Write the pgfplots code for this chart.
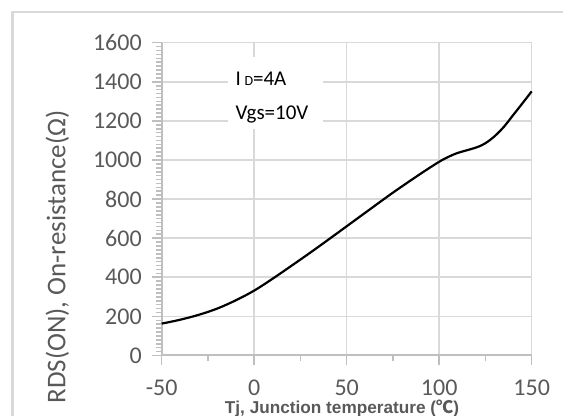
\documentclass[border=0pt]{standalone}
\usepackage{pgfplots}
\pgfplotsset{compat=1.18}
\usepackage{fontspec}
\setmainfont{Carlito}
\newfontfamily\arialb{Liberation Sans}
\newfontfamily\cjk{Noto Sans CJK SC}
\definecolor{gridc}{HTML}{D9D9D9}
\definecolor{axc}{HTML}{BFBFBF}
\definecolor{txtc}{HTML}{595959}
\begin{document}
\begin{tikzpicture}
\useasboundingbox (0,0) rectangle (281.5pt,208pt);
\draw[gridc, line width=1.1pt] (6.25pt,-2pt) -- (6.25pt,202.15pt) -- (284pt,202.15pt);
\begin{axis}[
  at={(80.85pt,30.25pt)}, anchor=south west,
  scale only axis, width=185pt, height=156.4pt,
  xmin=-50, xmax=150, ymin=0, ymax=1600,
  axis lines*=left,
  axis line style={axc, line width=1pt, -},
  xtick={-50,0,50,100,150},
  ytick={0,200,...,1600},
  minor x tick num=1,
  minor y tick num=9,
  tick align=outside,
  major tick length=4.8pt,
  minor tick length=2.8pt,
  tick style={axc, line width=0.8pt},
  grid=major,
  major grid style={gridc, line width=0.8pt},
  ticklabel style={font=\fontsize{12}{12}\selectfont, text=txtc},
  /pgf/number format/assume math mode=true,
  /pgf/number format/1000 sep={},
  yticklabel style={inner sep=0pt, xshift=-5pt},
  xticklabel style={inner sep=0pt, yshift=-7pt},
  clip=false,
]
\fill[white] (axis cs:-14,1156) rectangle (axis cs:37,1526);
\node[anchor=west, inner sep=0pt, font=\fontsize{10.5}{10.5}\selectfont] at (axis cs:-10.2,1418) {I\,{\fontsize{7}{7}\selectfont D}=4A};
\node[anchor=west, inner sep=0pt, font=\fontsize{10.5}{10.5}\selectfont] at (axis cs:-10.2,1232) {Vgs=10V};
\addplot[black, line width=1.1pt, smooth, tension=0.55] coordinates {
(-50,163) (-40,183) (-30,208) (-20,240) (-10,282) (0,332) (10,393) (20,458)
(30,524) (40,592) (50,661) (60,730) (75,833) (90,930) (100,991) (105,1016)
(110,1036) (120,1064) (125,1086) (130,1122) (135,1170) (140,1230) (145,1290) (150,1351)
};
\end{axis}
\node[rotate=90, text=txtc, font=\fontsize{13.5}{13.5}\selectfont, inner sep=0pt] at (28.7pt,79.5pt) {RDS(ON), On-resistance(Ω)};
\node[anchor=base, text=txtc, font=\arialb\bfseries\fontsize{8.6}{8.6}\selectfont, inner sep=0pt] at (171pt,1.4pt) {Tj, Junction temperature ({\cjk ℃})};
\end{tikzpicture}
\end{document}
